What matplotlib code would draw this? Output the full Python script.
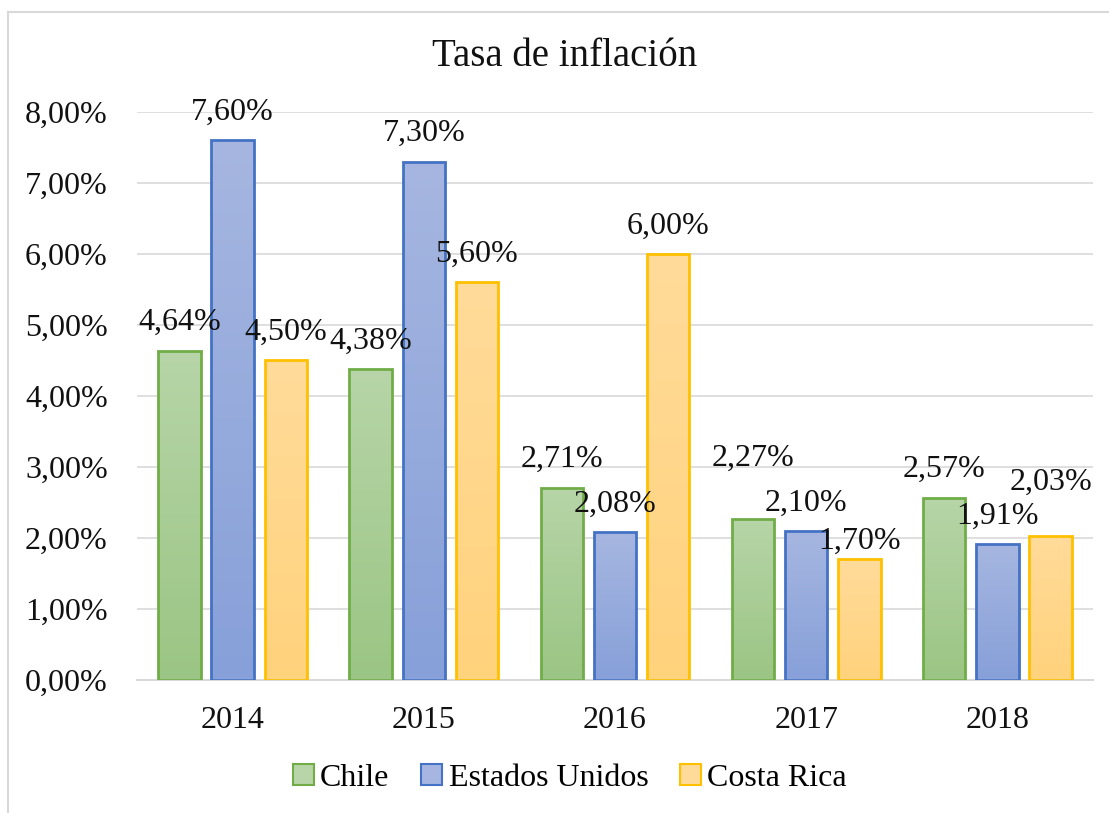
import numpy as np
import matplotlib
matplotlib.use("Agg")
import matplotlib.pyplot as plt
from matplotlib.colors import LinearSegmentedColormap
from matplotlib.patches import Patch

years = ["2014", "2015", "2016", "2017", "2018"]
chile = [4.64, 4.38, 2.71, 2.27, 2.57]
eeuu = [7.60, 7.30, 2.08, 2.10, 1.91]
costa_rica = [4.50, 5.60, 6.00, 1.70, 2.03]
series_names = ["Chile", "Estados Unidos", "Costa Rica"]

edge_colors = ["#70AD47", "#4472C4", "#FFC000"]
grad_top = ["#B7D5A8", "#A6B6E0", "#FFDB9A"]
grad_bot = ["#9BC584", "#87A0D9", "#FFD27C"]

# label lift above bar top, in pixels (Excel moved a few to avoid overlap)
lift_default = 28
lift_special = {(0, 3): 61, (2, 3): 18, (2, 4): 54}

plt.rcParams["font.family"] = ["Liberation Serif", "DejaVu Serif"]

fig = plt.figure(figsize=(11.09, 8.13), dpi=100)
ax = fig.add_axes([137 / 1109, 1 - 680 / 813, (1093 - 137) / 1109, (680 - 112) / 813])

# outer chart border (only top/left visible in the crop)
fig.add_artist(plt.Line2D([8 / 1109, 8 / 1109], [0, 1 - 12 / 813], color="#D9D9D9", lw=1.5))
fig.add_artist(plt.Line2D([8 / 1109, 1], [1 - 12 / 813, 1 - 12 / 813], color="#D9D9D9", lw=1.5))

x = np.arange(len(years))
width = 0.222
step = 0.278
data = [chile, eeuu, costa_rica]

ax.set_xlim(-0.5, len(years) - 0.5)
ax.set_ylim(0, 8)

for i, vals in enumerate(data):
    cmap = LinearSegmentedColormap.from_list("g%d" % i, [grad_bot[i], grad_top[i]])
    grad = np.linspace(0, 1, 256).reshape(-1, 1)
    bars = ax.bar(x + (i - 1) * step, vals, width, facecolor="none",
                  edgecolor=edge_colors[i], linewidth=2, zorder=3)
    for j, (b, v) in enumerate(zip(bars, vals)):
        bx, bw = b.get_x(), b.get_width()
        im = ax.imshow(grad, cmap=cmap, origin="lower", aspect="auto",
                       extent=[bx, bx + bw, 0, v], zorder=2)
        im.set_clip_path(b)
        lift = lift_special.get((i, j), lift_default)
        ax.annotate(("%.2f%%" % v).replace(".", ","), (bx + bw / 2, v),
                    xytext=(0, lift * 0.72), textcoords="offset points",
                    ha="center", va="center", fontsize=23, color="#111111", zorder=4)

ax.set_xlim(-0.5, len(years) - 0.5)
ax.set_ylim(0, 8)
ax.set_yticks(np.arange(0, 9, 1))
ax.set_yticklabels([("%.2f%%" % t).replace(".", ",") for t in range(9)])
ax.set_xticks(x)
ax.set_xticklabels(years)
ax.tick_params(axis="both", length=0, labelsize=23, colors="#111111")
ax.tick_params(axis="y", pad=21)
ax.tick_params(axis="x", pad=19)
ax.grid(axis="y", color="#D9D9D9", lw=1.2, zorder=0)
ax.set_axisbelow(True)
for s in ["top", "right", "left"]:
    ax.spines[s].set_visible(False)
ax.spines["bottom"].set_color("#D9D9D9")
ax.spines["bottom"].set_linewidth(1.5)

fig.text(565 / 1109, 1 - 57 / 813, "Tasa de inflación", ha="center", va="center",
         fontsize=28, color="#111111")

handles = [Patch(facecolor=grad_top[i], edgecolor=edge_colors[i], linewidth=1.5,
                 label=series_names[i]) for i in range(3)]
fig.legend(handles=handles, loc="center", bbox_to_anchor=(570 / 1109, 1 - 778 / 813),
           ncol=3, frameon=False, fontsize=23, handlelength=0.65, handleheight=0.65,
           handletextpad=0.2, columnspacing=1.0)

fig.savefig("out.png", dpi=100)
